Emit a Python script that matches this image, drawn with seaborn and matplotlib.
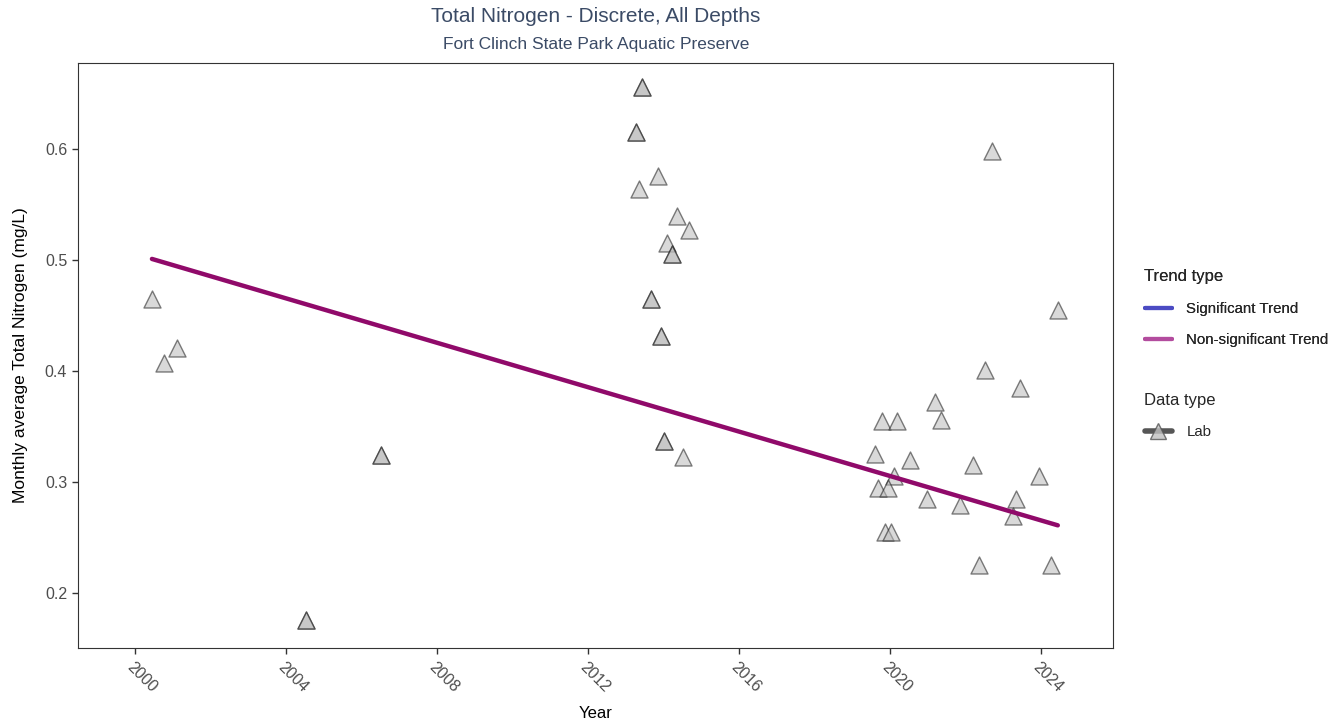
import matplotlib
matplotlib.use("Agg")
import matplotlib.pyplot as plt
from matplotlib.lines import Line2D
import seaborn as sns
import pandas as pd

# ---- data ----
years = [2000.46, 2000.78, 2001.12, 2004.54, 2004.54, 2006.53, 2006.53,
         2013.44, 2013.44, 2013.28, 2013.28, 2013.36, 2013.86, 2014.37, 2014.10,
         2014.69, 2014.23, 2014.23, 2013.68, 2013.68, 2013.95, 2013.95,
         2014.03, 2014.03, 2014.53,
         2022.70, 2024.45, 2022.53, 2023.45, 2021.20, 2019.79, 2020.20, 2021.37,
         2019.62, 2020.53, 2022.20, 2023.95, 2020.11, 2019.70, 2019.95, 2020.99,
         2023.35, 2021.86, 2023.26, 2019.87, 2020.04, 2022.37, 2024.28]
values = [0.465, 0.407, 0.421, 0.176, 0.176, 0.324, 0.324,
          0.656, 0.656, 0.615, 0.615, 0.564, 0.576, 0.540, 0.515,
          0.527, 0.505, 0.505, 0.465, 0.465, 0.432, 0.432,
          0.337, 0.337, 0.323,
          0.598, 0.455, 0.401, 0.385, 0.372, 0.355, 0.355, 0.356,
          0.325, 0.320, 0.315, 0.305, 0.305, 0.295, 0.295, 0.285,
          0.285, 0.279, 0.269, 0.255, 0.255, 0.225, 0.225]
trend_years = [2000.46, 2024.45]
trend_values = [0.501, 0.261]

title = "Total Nitrogen - Discrete, All Depths"
subtitle = "Fort Clinch State Park Aquatic Preserve"
x_ticks = [2000, 2004, 2008, 2012, 2016, 2020, 2024]
y_ticks = [0.2, 0.3, 0.4, 0.5, 0.6]

df = pd.DataFrame({"Year": years, "Value": values, "Type": "Lab"})
tdf = pd.DataFrame({"Year": trend_years, "Value": trend_values})

sns.set_style("white")
plt.rcParams["font.family"] = ["Liberation Sans", "DejaVu Sans"]

fig = plt.figure(figsize=(13.43, 7.25), dpi=100)
L, R, T, B = 78.3 / 1343, 1113.3 / 1343, 1 - 63 / 725, 1 - 648 / 725
ax = fig.add_axes([L, B, R - L, T - B])

sns.scatterplot(data=df, x="Year", y="Value", ax=ax, marker="^", s=150,
                color="#bababa", alpha=0.55, edgecolor="#1a1a1a", linewidth=1.0,
                legend=False, zorder=3)
sns.lineplot(data=tdf, x="Year", y="Value", ax=ax, color="#900a6a",
             linewidth=3.2, legend=False, zorder=4)

ax.set_xlim(1998.51, 2025.92)
ax.set_ylim(0.1505, 0.6775)
ax.set_xticks(x_ticks)
ax.set_xticklabels([str(t) for t in x_ticks], rotation=-45, ha="left",
                   va="top", rotation_mode="anchor")
ax.set_yticks(y_ticks)
ax.set_yticklabels([f"{t:.1f}" for t in y_ticks])
ax.tick_params(axis="both", which="major", length=4, width=1, color="#333333",
               labelsize=11.5, labelcolor="#4d4d4d", direction="out", pad=4,
               bottom=True, left=True)
for sp in ax.spines.values():
    sp.set_color("#333333")
    sp.set_linewidth(0.8)
ax.grid(False)
ax.set_xlabel("Year", fontsize=12, color="black", labelpad=8)
ax.set_ylabel("Monthly average Total Nitrogen (mg/L)", fontsize=12.5,
              color="black", labelpad=12)

cx = (L + R) / 2
fig.text(cx, 1 - 17 / 725, title, ha="center", va="center", fontsize=15,
         color="#3b4b66")
fig.text(cx, 1 - 44 / 725, subtitle, ha="center", va="center", fontsize=12.5,
         color="#3b4b66")

# legends
trend_handles = [Line2D([0], [0], color="#4b4bc3", lw=3),
                 Line2D([0], [0], color="#b34c9e", lw=3)]
leg1 = fig.legend(trend_handles, ["Significant Trend", "Non-significant Trend"],
                  title="Trend type", loc="upper left",
                  bbox_to_anchor=(1131 / 1343, 1 - 256 / 725), frameon=False,
                  fontsize=10.8, title_fontsize=12, handlelength=1.8,
                  handletextpad=1.0, labelspacing=1.15, alignment="left")
lab_handle = (Line2D([0], [0], color="#444444", lw=4, alpha=0.9),
              Line2D([0], [0], marker="^", color="none", markersize=12,
                     markerfacecolor="#c0c0c0", markeredgecolor="#555555",
                     alpha=0.8))
leg2 = fig.legend([lab_handle], ["Lab"], title="Data type", loc="upper left",
                  bbox_to_anchor=(1131 / 1343, 1 - 379 / 725), frameon=False,
                  fontsize=10.8, title_fontsize=12, handlelength=1.8,
                  handletextpad=1.0, labelspacing=1.15, alignment="left")
fig.add_artist(leg1)

fig.savefig("out.png", dpi=100)
